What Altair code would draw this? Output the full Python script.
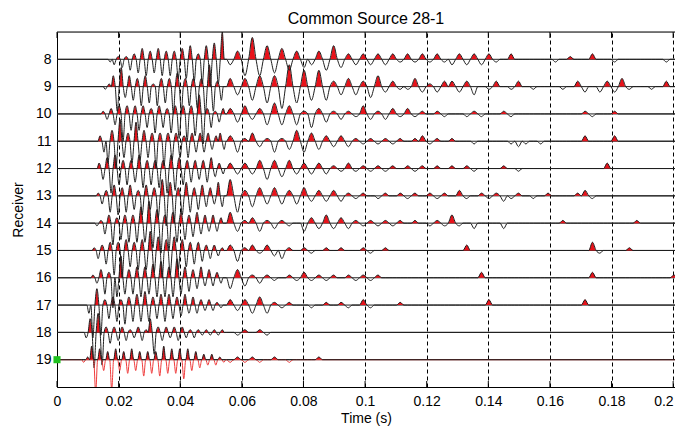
import altair as alt
import pandas as pd

# ---------------- data ----------------
RECEIVERS = [8, 9, 10, 11, 12, 13, 14, 15, 16, 17, 18, 19]
ONSETS = [0.0166, 0.0150, 0.0143, 0.0133, 0.0130, 0.0127, 0.0123, 0.0114, 0.0110, 0.0097, 0.0088, 0.0080]
XTICKS = [0, 0.02, 0.04, 0.06, 0.08, 0.1, 0.12, 0.14, 0.16, 0.18, 0.2]

# sampling of the wiggles: one extremum per half cycle (amplitudes in tenths of a trace spacing)
EARLY_HALF = 0.0013
LATE_START = 0.055
LATE_HALF = 0.0024
T_MAX = 0.2006

E08 = [-1, -2, 1, -3, 1, -4, 2, -5, 4, -6, 3, -5, 4, -6, 3, -6, 3, -7, 4, -7, 5, -8, 2, -9, 5, -10, 6, -9, 10]
E09 = [-1, 1, 4, -9, 7, -4, 4, -5, 3, -7, 4, -6, 1, -7, 3, -6, 3, -10, 5, -9, 3, -7, 3, -8, 3, -10, 8, -9, 2, -5]
E10 = [1, -2, 2, -4, 3, -10, 3, -6, 3, -6, 3, -5, 2, -7, 3, -5, 2, -7, 3, -9, 3, -10, 3, -8, 7, -11, 2, -5, 1, -3, 2]
E11 = [2, -4, -8, 4, -10, 8, -6, 3, -8, 7, -7, 4, -6, 3, -10, 3, -9, 3, -7, 3, -6, 2, -6, 3, -4, 3, -4, 3, -3, 2, 3, -3]
E12 = [2, -4, 4, -9, 5, -6, 3, -6, 3, -5, 5, -7, 3, -6, 3, -7, 3, -9, 5, -8, 4, -6, 3, -5, 3, -4, 3, -5, 4, -3, 2, -2]
E13 = [1, -3, 2, -6, 4, -7, 3, -6, 4, -5, 2, -7, 4, -5, 3, -8, 6, -11, 5, -10, 3, -7, 5, -6, 3, -5, 4, -4, 3, -3, 5, -4]
E14 = [-1, 1, -4, 3, -8, 2, -6, 3, -7, 3, -7, 6, -7, 8, -9, 5, -11, 3, -10, 4, -7, 4, -6, 3, -5, 4, -4, 3, -3, 3, -3, 2]
E15 = [1, -3, 2, -5, 3, -9, 3, -10, 4, -6, 3, -7, 4, -7, 7, -8, 5, -10, 4, -9, 5, -7, 4, -6, 3, -5, 3, -4, 2, -3, 2, -2, 1]
E16 = [1, -2, 3, -6, 2, -11, -7, 8, -6, 3, -6, 4, -7, 4, -6, 5, -7, 6, -7, 4, -7, 7, -6, 4, -5, 3, -4, 4, -3, 3, -3, 2, -2]
E17 = [-3, -12, 6, -11, 2, -5, 3, -6, 2, -7, 3, -6, 4, -6, 5, -6, 3, -5, 4, -6, 4, -5, 3, -4, 4, -3, 3, -3, 2, -2, 2, -2, 1, -1]
E18 = [-2, 5, -13, 7, -12, 2, -4, 2, -3, 2, -3, 1, -2, 2, -3, 1, 5, -8, 2, -3, 2, -2, 2, -3, 2, -2, 1, -2, 1, -1, 1, -1, 1, -1, 1]
E19 = [-1, 1, 5, -12, 4, -4, 3, -11, 4, -4, 3, -5, 4, -4, 3, -6, 3, -5, 3, -6, 5, -5, 4, -5, 4, -7, 4, -4, 3, -3, 2, -2, 2, -2, 1, -1]

L08 = [-2, 3, -6, 8, -6, 5, -5, 4, -4, 3, -3, -2, 3, -4, 5, -3, 2, -2, 2, -2, 2, -2, 2, -1, 2, -1, 2, -1, 2, -1,
       -2, 2, -2, 2, -2, 2, -1, 0, 2, 0, 0, 0, 0, 0, -1, 0, 1, 0, 0, 2, 0, 0, -1, 0, 0, 0, 0, 0, 0, -1, 0, 0, 0]
L09 = [3, -3, 3, -5, 4, -6, 4, -8, 8, -6, 6, -5, 6, -5, 2, -3, 3, -3, 2, -4, 4, -2, 2, -1, -1, 3, -2, 1, -2, 2,
       2, -2, 2, -3, 0, -1, 2, 0, -1, 2, 0, -1, 0, 0, 0, -1, 0, 2, -2, 0, -2, 2, -2, 3, -1, 0, 0, -1, 0, 2, 0, 0, 1]
L10 = [2, -3, 3, -2, 2, -4, 4, -4, 3, -4, 1, -5, 2, -3, 1, -2, 1, -1, 3, -2, 1, -2, 2, -1, 2, -1, 1, 0, 1, -1,
       0, 0, -1, 1, -1, 0, 0, 1, -1, 0, 0, 0, 0, 0, 0, 0, 0, 0, 1, -1, 0, 0, 1]
L11 = [2, -4, 1, 3, -2, 1, -4, 1, -3, 4, -4, 3, -3, 2, -2, 2, -2, 1, -1, 1, -1, 1, -1, 1, 0, 1, 2, -1, 1, 0,
       1, 0, 0, -1, 0, 0, 0, 0, -1, -2, -1, 0, -1, 0, 0, 0, 0, 0, 2, 0, 0, 0, 2]
L12 = [2, -2, 2, -2, 3, -4, 3, -3, 3, -2, 2, -2, 2, -2, 1, -1, 2, -1, 1, -1, 1, -1, 1, 0, 1, -1, 1, 0, 1, 0,
       1, 0, 1, -1, 0, 0, 0, 1, 0, -1, 0, 0, 0, 0, 0, 0, 0, 0, 0, 0, 0, 2]
L13 = [6, -6, 2, -4, 3, -3, 3, -3, 2, -3, 3, -2, 2, -2, 2, -2, 1, -1, 1, 0, -1, 1, 0, 1, -1, 1, 0, 1, -1, 1,
       0, 2, -1, 0, 1, -1, 1, -2, -1, 1, 0, -1, 0, 1, 0, 0, 0, 1, 2, -1]
L14 = [4, -3, 1, 2, -3, 1, -2, 1, -1, 0, -3, 2, -2, 3, -2, 2, -2, 1, -1, 1, -1, 1, -1, 1, 0, 1, 0, -1, 1, -1,
       3, -1, 0, -2, 0, 0, 0, -2, 0, 0, 0, 0, 0, 0, 0, 1, 0, 0, 0, 0, 0, 0, 0, 0, 0, 1]
L15 = [2, -4, 1, 2, -1, 2, -2, -3, 1, 0, 1, -1, 0, 1, 0, 1, 0, 0, 1, -1, 0, 1, 0, 0, 0, 0, 0, 0, 0, 0,
       0, 0, 2, 0, 0, 0, 0, 0, 0, 0, 0, 0, 0, 0, 0, 0, 0, 0, 0, 3, -1, 0, 0, 0, 1]
L16 = [-4, 3, -3, 1, -2, 1, -1, 0, 1, -1, 2, -1, 1, -1, 1, 0, 1, -1, 1, -1, 1, 0, 0, 0, 0, 0, 0, 0, 0, 0,
       0, 0, 0, 0, 2, 0, 0, 0, 0, 0, 0, 0, 0, 0, 0, 0, 0, 0, 0, 2, 0, 0, 0, 0, 0, 0, 0, 0, 0, 0, 1]
L17 = [2, -2, 2, -3, 3, -3, 1, -1, 1, 0, 0, -1, 0, 1, 0, 1, -1, 0, 2, -1, 0, 0, 0, 1, 0, 0, 0, 0, 0, 0,
       0, 0, 0, 0, 0, 2, 0, 0, 0, 0, 0, 0, 0, 0, 0, 0, 0, 0, 2]
L18 = [0, -1, 1, 0, 1, -1]
L19 = [-1, 1, -1, 1, -1, 0, 1, 0, -1, 0, 0, 0, 1]

EARLY_LOBES = [E08, E09, E10, E11, E12, E13, E14, E15, E16, E17, E18, E19]
LATE_LOBES = [L08, L09, L10, L11, L12, L13, L14, L15, L16, L17, L18, L19]
GAIN = 0.1  # tenths of a trace spacing

# ---------------- build the wiggle table ----------------
rows = []
for rec, onset, early, late in zip(RECEIVERS, ONSETS, EARLY_LOBES, LATE_LOBES):
    pts = [(0.0, 0.0), (onset, 0.0)]
    t = onset
    for a in early:
        if t + EARLY_HALF > LATE_START + 1e-9:
            break
        pts.append((t + EARLY_HALF / 2, a * GAIN))
        pts.append((t + EARLY_HALF, 0.0))
        t += EARLY_HALF
    if t < LATE_START - 1e-9:
        pts.append((LATE_START, 0.0))
    t = LATE_START
    for a in late:
        if t >= T_MAX:
            break
        pts.append((t + LATE_HALF / 2, a * GAIN))
        pts.append((t + LATE_HALF, 0.0))
        t += LATE_HALF
    if t < T_MAX:
        pts.append((T_MAX, 0.0))
    for tt, amp in pts:
        rows.append({
            "receiver": rec,
            "t": tt,
            "y": rec - amp,
            "ypos": rec - max(amp, 0.0),
            "yneg": rec - min(amp, 0.0),
            "base": rec,
        })

df = pd.DataFrame(rows)
df_main = df[df["receiver"] != 19]
df_last = df[df["receiver"] == 19]
df_rec = pd.DataFrame({"receiver": RECEIVERS})
df_ticks = pd.DataFrame({"t": XTICKS})
df_dot = pd.DataFrame({"t": [0.0], "receiver": [19]})

W, H = 618, 355
FONT = "Liberation Sans"
RED = "#e8121a"
INK = "#1e1e1e"

xscale = alt.Scale(domain=[0, T_MAX], nice=False, zero=False)
yscale = alt.Scale(domain=[7, 20], reverse=True, nice=False, zero=False)

x_axis = alt.Axis(values=XTICKS, format="~g", title="Time (s)", grid=True, gridDash=[4, 3],
                  gridColor="black", gridOpacity=1, gridWidth=1, ticks=False, labelPadding=7,
                  titlePadding=3, domainColor="black", domainWidth=1, labelFontSize=14,
                  titleFontSize=14, labelFont=FONT, titleFont=FONT, titleFontWeight="normal",
                  labelColor="black", titleColor="black", labelFlush=False, labelOverlap=False,
                  labelAlign=alt.expr("datum.value >= 0.199 ? 'right' : 'center'"))
y_axis = alt.Axis(values=RECEIVERS, format="d", title="Receiver", grid=False, ticks=False,
                  labelPadding=6, titlePadding=10, domainColor="black", domainWidth=1,
                  labelFontSize=14, titleFontSize=14, labelFont=FONT, titleFont=FONT,
                  titleFontWeight="normal", labelColor="black", titleColor="black")

X = lambda f: alt.X(f, type="quantitative", scale=xscale, axis=x_axis)
Y = lambda f: alt.Y(f, type="quantitative", scale=yscale, axis=y_axis)

baselines = alt.Chart(df_rec).mark_rule(color="#222222", strokeWidth=1).encode(
    y=Y("receiver")
)

fills = alt.Chart(df).mark_area(color=RED, interpolate="monotone", clip=True, opacity=1).encode(
    x=X("t"),
    y=Y("ypos"),
    y2="base:Q",
    detail="receiver:N",
)

lines = alt.Chart(df_main).mark_line(color=INK, strokeWidth=1, interpolate="monotone", clip=True).encode(
    x=X("t"),
    y=Y("y"),
    detail="receiver:N",
)

last_neg = alt.Chart(df_last).mark_line(color="#f03c3c", strokeWidth=1, interpolate="monotone", clip=True).encode(
    x=X("t"),
    y=Y("yneg"),
)
last_pos = alt.Chart(df_last).mark_line(color=INK, strokeWidth=1, interpolate="monotone", clip=True).encode(
    x=X("t"),
    y=Y("ypos"),
)

ticks_bottom = alt.Chart(df_ticks).mark_rule(color="black", strokeWidth=1).encode(
    x=X("t"),
    y=alt.value(H - 6),
    y2=alt.value(H),
)
ticks_top = alt.Chart(df_ticks).mark_rule(color="black", strokeWidth=1).encode(
    x=X("t"),
    y=alt.value(0),
    y2=alt.value(6),
)
top_border = alt.Chart(df_dot).mark_rule(color="black", strokeWidth=1).encode(
    y=alt.value(0), x=alt.value(0), x2=alt.value(W)
)

dot = alt.Chart(df_dot).mark_point(shape="square", filled=True, size=50, color="#1fc21f",
                                   opacity=1, clip=False).encode(
    x=X("t"),
    y=Y("receiver"),
)

chart = alt.layer(
    baselines, fills, lines, last_neg, last_pos, ticks_bottom, ticks_top, top_border, dot
).properties(
    width=W,
    height=H,
    padding={"left": 49, "top": 24, "right": 0, "bottom": 41},
    autosize=alt.AutoSizeParams(type="none"),
    title=alt.TitleParams("Common Source 28-1", fontSize=16, font=FONT, fontWeight="normal",
                          color="black", offset=5, anchor="middle"),
).configure_view(stroke=None).configure(background="white")

chart.save("out.html", embed_options={"renderer": "svg", "actions": False})
